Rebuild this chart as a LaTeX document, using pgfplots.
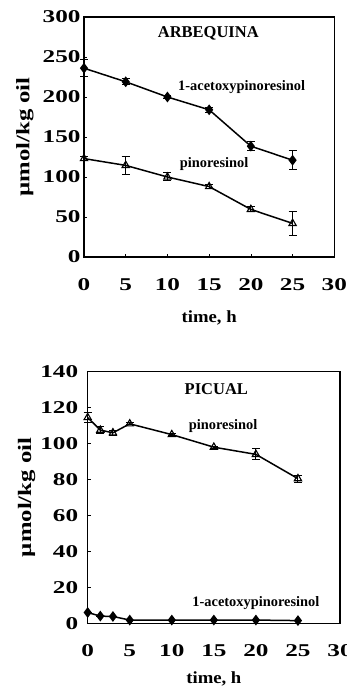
\documentclass[border=0pt]{standalone}
\usepackage{fontspec}
\setmainfont{Liberation Serif}
\newfontfamily\tickfont[FakeStretch=1.4]{Liberation Serif}
\newfontfamily\ylabfont[FakeStretch=1.3]{Liberation Serif}
\newfontfamily\xlabfont[FakeStretch=1.1]{Liberation Serif}
\usepackage{pgfplots}
\pgfplotsset{compat=1.18}
\usepackage{pgfplotstable}

\pgfplotstableread{
x y e
0 236 11
5 219 4
10 200 2
15 184 3
20 138.5 6
25 121 12
}\arbAcet
\pgfplotstableread{
x y e
0 123 3
5 114.5 11
10 100 5
15 88 3
20 59.5 3
25 42 15
}\arbPin
\pgfplotstableread{
x y e
0 114.5 3
1.5 107.5 2
3 106 1.5
5 111 0.5
10 105 0.5
15 98 0.5
20 94 3
25 80.5 2
}\picPin
\pgfplotstableread{
x y e
0 6 0
1.5 4 0
3 3.8 0
5 1.8 0
10 1.8 0
15 1.8 0
20 1.8 0
25 1.5 0
}\picAcet

\tikzset{
  ann/.style={font=\bfseries\fontsize{14.4}{14.4}\selectfont},
  ttl/.style={font=\bfseries\fontsize{16.5}{16.5}\selectfont},
}
\pgfplotsset{
  mystyle/.style={
    scale only axis,
    anchor=south west,
    xmin=0, xmax=30,
    xtick={0,5,10,15,20,25,30},
    ymin=0,
    tick align=inside,
    major tick length=3pt,
    axis line style={line width=1.1pt},
    every tick/.style={black, line width=0.6pt},
    xtick pos=bottom, ytick pos=left,
    /pgf/number format/assume math mode=true,
    tick label style={font=\tickfont\bfseries\fontsize{18}{18}\selectfont},
    xlabel style={font=\xlabfont\bfseries\fontsize{17}{17}\selectfont},
    ylabel style={font=\ylabfont\bfseries\fontsize{19}{19}\selectfont},
    xticklabel shift=18pt,
  },
  ser/.style={black, line width=1.5pt,
    error bars/y dir=both, error bars/y explicit,
    error bars/error bar style={line width=1pt},
    error bars/error mark options={rotate=90, mark size=4pt, line width=1pt}},
}

\begin{document}
\begin{tikzpicture}
\useasboundingbox (0,0) rectangle (346pt,692pt);
% top axis
\begin{axis}[mystyle,
  at={(84pt,435pt)}, width=250.3pt, height=240pt,
  ymax=300, ytick={0,50,100,150,200,250,300},
  xlabel={time, h},
  xlabel style={at={(axis description cs:0.5,0)}, anchor=center, yshift=-61pt},
  ylabel={µmol/kg oil},
  ylabel style={at={(axis description cs:0,0.5)}, anchor=center, yshift=59pt},
  clip=false]
\addplot+[ser, mark=diamond*, mark options={solid, fill=black, mark size=4.2pt}]
  table[x=x, y=y, y error=e] {\arbAcet};
\addplot+[ser, mark=triangle, mark options={solid, fill=white, mark size=4.2pt, line width=1.1pt}]
  table[x=x, y=y, y error=e] {\arbPin};
\node[ttl] at (axis cs:14.9,279) {ARBEQUINA};
\node[ann] at (axis cs:18.9,212) {1-acetoxypinoresinol};
\node[ann] at (axis cs:15.6,116) {pinoresinol};
\end{axis}
% bottom axis
\begin{axis}[mystyle,
  at={(87.7pt,68.7pt)}, width=252.3pt, height=251.6pt,
  ymax=140, ytick={0,20,40,60,80,100,120,140},
  yticklabel shift=6pt,
  xlabel={time, h},
  xlabel style={at={(axis description cs:0.5,0)}, anchor=center, yshift=-56pt},
  ylabel={µmol/kg oil},
  ylabel style={at={(axis description cs:0,0.5)}, anchor=center, yshift=61pt},
  clip=false]
\addplot+[ser, mark=triangle, mark options={solid, fill=white, mark size=4.2pt, line width=1.1pt}]
  table[x=x, y=y, y error=e] {\picPin};
\addplot+[ser, mark=diamond*, mark options={solid, fill=black, mark size=4.2pt}]
  table[x=x, y=y, y error=e] {\picAcet};
\node[ttl] at (axis cs:15.3,130.5) {PICUAL};
\node[ann] at (axis cs:16.1,109.8) {pinoresinol};
\node[ann] at (axis cs:20.0,11.5) {1-acetoxypinoresinol};
\end{axis}
\end{tikzpicture}
\end{document}
